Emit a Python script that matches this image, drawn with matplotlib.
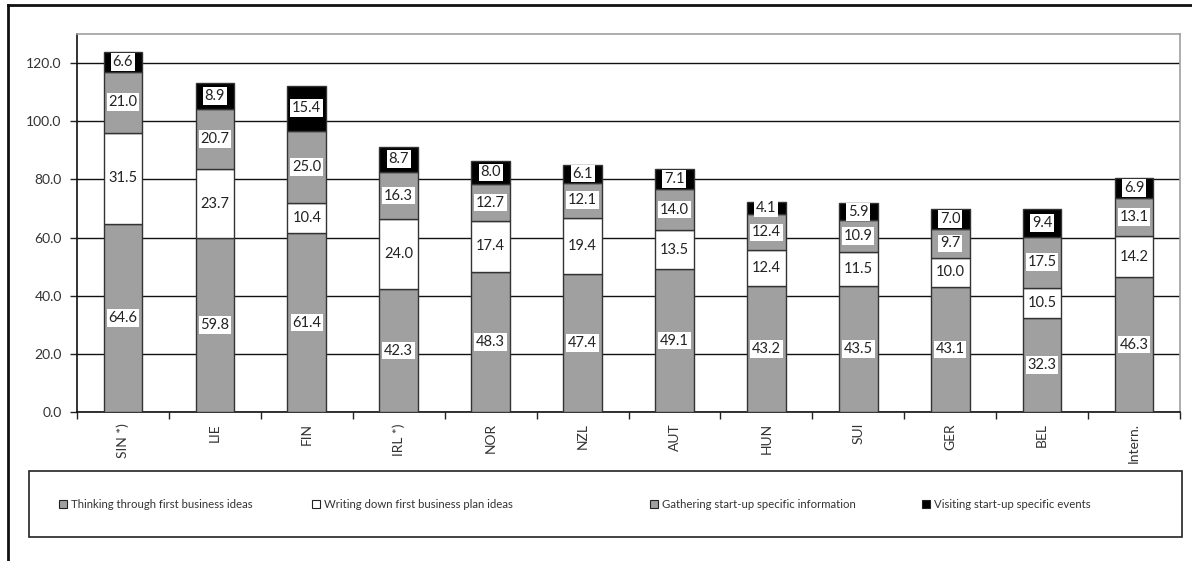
import matplotlib
matplotlib.use("Agg")
import matplotlib.pyplot as plt
from matplotlib.patches import Rectangle
import numpy as np

countries = ["SIN *)", "LIE", "FIN", "IRL *)", "NOR", "NZL", "AUT", "HUN", "SUI", "GER", "BEL", "Intern."]
thinking = [64.6, 59.8, 61.4, 42.3, 48.3, 47.4, 49.1, 43.2, 43.5, 43.1, 32.3, 46.3]
writing = [31.5, 23.7, 10.4, 24.0, 17.4, 19.4, 13.5, 12.4, 11.5, 10.0, 10.5, 14.2]
gathering = [21.0, 20.7, 25.0, 16.3, 12.7, 12.1, 14.0, 12.4, 10.9, 9.7, 17.5, 13.1]
visiting = [6.6, 8.9, 15.4, 8.7, 8.0, 6.1, 7.1, 4.1, 5.9, 7.0, 9.4, 6.9]

series_names = ["Thinking through first business ideas",
                "Writing down first business plan ideas",
                "Gathering start-up specific information",
                "Visiting start-up specific events"]
series_colors = ["#a0a0a0", "#ffffff", "#a0a0a0", "#000000"]

plt.rcParams["font.family"] = ["Lato", "DejaVu Sans"]

W, H = 1192, 561
fig = plt.figure(figsize=(W / 100, H / 100), dpi=100)

def fx(px):
    return px / W

def fy(py):
    return 1 - py / H

ax = fig.add_axes([fx(77), fy(412), fx(1180) - fx(77), fy(34) - fy(412)])

x = np.arange(len(countries))
bottom = np.zeros(len(countries))
for vals, col in zip([thinking, writing, gathering, visiting], series_colors):
    vals = np.array(vals)
    ax.bar(x, vals, width=0.42, bottom=bottom, color=col,
           edgecolor="#333333", linewidth=1.0, zorder=3)
    for xi, b, v in zip(x, bottom, vals):
        ax.text(xi, b + v / 2, f"{v:.1f}", ha="center", va="center",
                fontsize=10.5, color="#222222", zorder=5,
                bbox=dict(boxstyle="square,pad=0.12", fc="white", ec="none"))
    bottom = bottom + vals

ax.set_xlim(-0.5, len(countries) - 0.5)
ax.set_ylim(0, 130)
ax.set_yticks(np.arange(0, 121, 20))
ax.set_yticklabels([f"{v:.1f}" for v in np.arange(0, 121, 20)], fontsize=10, color="#333333")
ax.yaxis.grid(True, color="#111111", linewidth=1.0, zorder=0)
ax.set_axisbelow(True)

ax.set_xticks(np.arange(-0.5, len(countries), 1.0))
ax.set_xticklabels([])
ax.set_xticks(x, minor=True)
ax.set_xticklabels(countries, minor=True, rotation=90, fontsize=10, color="#333333")
ax.tick_params(axis="x", which="minor", length=0, pad=8)
ax.tick_params(axis="x", which="major", length=5, width=1, direction="out", color="#222222")
ax.tick_params(axis="y", length=5, width=1, direction="out", color="#222222", pad=6)

ax.spines["left"].set_color("#111111")
ax.spines["bottom"].set_color("#111111")
ax.spines["top"].set_color("#a0a0a0")
ax.spines["right"].set_color("#a0a0a0")
for s in ax.spines.values():
    s.set_linewidth(1.2)

# outer frame (open towards right and bottom)
fig.add_artist(plt.Line2D([fx(8), fx(8)], [fy(5), fy(H + 5)], color="#111111", linewidth=2.0))
fig.add_artist(plt.Line2D([fx(8), fx(W + 5)], [fy(5), fy(5)], color="#111111", linewidth=2.0))

# legend box
fig.add_artist(Rectangle((fx(29), fy(537)), fx(1182) - fx(29), fy(471) - fy(537),
                         fill=False, edgecolor="#222222", linewidth=1.2))
legend_x = [59, 312, 650, 922]
leg_y = 504
for lx, name, col in zip(legend_x, series_names, series_colors):
    fig.add_artist(Rectangle((fx(lx), fy(leg_y + 4)), fx(8), fy(leg_y - 4) - fy(leg_y + 4),
                             facecolor=col, edgecolor="#222222", linewidth=0.8))
    fig.text(fx(lx + 12), fy(leg_y), name, ha="left", va="center",
             fontsize=8.2, color="#333333")

fig.savefig("out.png", dpi=100)
